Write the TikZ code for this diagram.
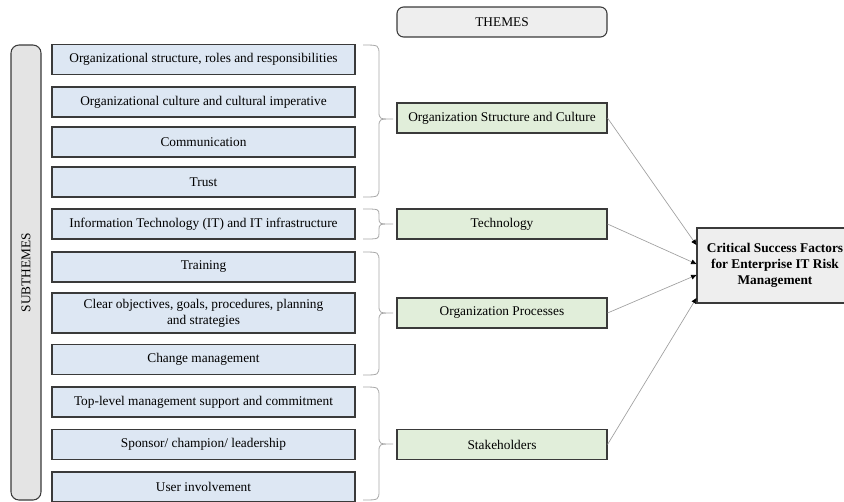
\documentclass[tikz,border=0pt]{standalone}
\usepackage{fontspec}
\setmainfont{Liberation Serif}
\usetikzlibrary{arrows.meta}

\definecolor{subblue}{HTML}{DDE7F3}
\definecolor{themegreen}{HTML}{E1EEDA}
\definecolor{headgray}{HTML}{EEEEEE}
\definecolor{sidegray}{HTML}{E4E4E4}
\definecolor{framegray}{HTML}{3A3A3A}
\definecolor{bracegray}{HTML}{A8A8A8}

\begin{document}
\begin{tikzpicture}[x=0.75pt, y=-0.75pt,
  sub/.style={draw=framegray, line width=0.8pt, fill=subblue, minimum width=227.25pt, minimum height=22.5pt, inner sep=0pt, align=center},
  theme/.style={draw=framegray, line width=0.8pt, fill=themegreen, minimum width=157.5pt, minimum height=22.5pt, inner sep=0pt},
  head/.style={draw=framegray, line width=0.8pt, fill=headgray, inner sep=0pt},
  link/.style={draw=gray!75, line width=0.5pt, -{Triangle[color=black, length=4pt, width=3.5pt]}},
  brc/.style={draw=bracegray, line width=0.6pt}]
\useasboundingbox (0,0) rectangle (844,501);

\node (subth) [head, fill=sidegray, rounded corners=6pt, minimum width=341.25pt, minimum height=22.5pt, rotate=90] at (26,272.5) {SUBTHEMES};
\node (themes) [head, rounded corners=5pt, minimum width=157.5pt, minimum height=22.5pt] at (502,22) {THEMES};

\node (s1) [sub] at (203.5,59.5) {Organizational structure, roles and responsibilities};
\node (s2) [sub] at (203.5,102) {Organizational culture and cultural imperative};
\node (s3) [sub] at (203.5,142) {Communication};
\node (s4) [sub] at (203.5,182) {Trust};
\node (s5) [sub] at (203.5,224) {Information Technology (IT) and IT infrastructure};
\node (s6) [sub] at (203.5,267) {Training};
\node (s7) [sub, minimum height=30pt] at (203.5,313) {Clear objectives, goals, procedures, planning\\and strategies};
\node (s8) [sub] at (203.5,359.5) {Change management};
\node (s9) [sub] at (203.5,402) {Top-level management support and commitment};
\node (s10) [sub] at (203.5,444.5) {Sponsor/ champion/ leadership};
\node (s11) [sub] at (203.5,487) {User involvement};

\node (org) [theme] at (502,118) {Organization Structure and Culture};
\node (tech) [theme] at (502,224) {Technology};
\node (proc) [theme] at (502,313) {Organization Processes};
\node (stake) [theme] at (502,444.5) {Stakeholders};

\node (csf) [head, minimum width=117pt, minimum height=56.25pt, align=center, font=\bfseries] at (775,265.5) {Critical Success Factors\\for Enterprise IT Risk\\Management};

\draw[brc] (363,45) .. controls (379,45) .. (379,55) -- (379,111) .. controls (379,119) .. (393,119) .. controls (379,119) .. (379,127) -- (379,187) .. controls (379,197) .. (363,197);
\draw[brc] (363,209) .. controls (379,209) .. (379,215) -- (379,218) .. controls (379,224) .. (393,224) .. controls (379,224) .. (379,230) -- (379,233) .. controls (379,239) .. (363,239);
\draw[brc] (363,252) .. controls (379,252) .. (379,262) -- (379,305) .. controls (379,313) .. (393,313) .. controls (379,313) .. (379,321) -- (379,365) .. controls (379,375) .. (363,375);
\draw[brc] (363,387) .. controls (379,387) .. (379,397) -- (379,436) .. controls (379,444) .. (393,444) .. controls (379,444) .. (379,452) -- (379,490) .. controls (379,500) .. (363,500);

\draw[link] (org.east) -- (csf.west |- 0,245);
\draw[link] (tech.east) -- (csf.west |- 0,264);
\draw[link] (proc.east) -- (csf.west |- 0,275);
\draw[link] (stake.east) -- (csf.west |- 0,298);
\end{tikzpicture}
\end{document}
